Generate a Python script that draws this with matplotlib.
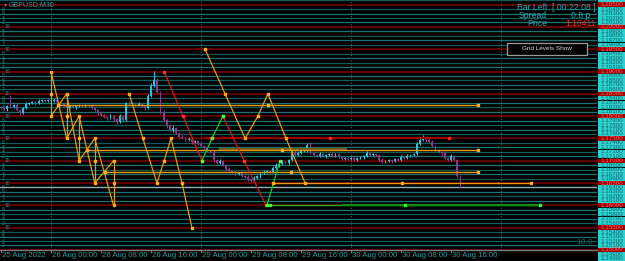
import matplotlib.pyplot as plt
from matplotlib.patches import Rectangle

plt.rcParams['font.family'] = ['Liberation Sans', 'DejaVu Sans']

# GBPUSD M30 closes, bar 0 = 25 Aug 16:00
first_open = 1.1820
closes = [
    1.1818, 1.1816, 1.1823, 1.1821, 1.1825, 1.1814, 1.1807, 1.1818, 1.1827, 1.1829,
    1.1832, 1.1829, 1.1834, 1.1836, 1.1834, 1.1836, 1.1834, 1.1836, 1.1832, 1.1827,
    1.1823, 1.1821, 1.1823, 1.1821, 1.1823, 1.1825, 1.1823, 1.1825, 1.1823, 1.1818,
    1.1814, 1.1807, 1.1803, 1.1798, 1.1796, 1.1800, 1.1794, 1.1787, 1.1800, 1.1791,
    1.1829, 1.1827, 1.1829, 1.1825, 1.1827, 1.1823, 1.1818, 1.1845, 1.1868, 1.1881,
    1.1854, 1.1809, 1.1791, 1.1778, 1.1769, 1.1773, 1.1762, 1.1753, 1.1751, 1.1747,
    1.1749, 1.1742, 1.1744, 1.1738, 1.1733, 1.1729, 1.1722, 1.1720, 1.1702, 1.1695,
    1.1699, 1.1690, 1.1682, 1.1677, 1.1675, 1.1670, 1.1672, 1.1666, 1.1664, 1.1659,
    1.1655, 1.1661, 1.1666, 1.1672, 1.1675, 1.1677, 1.1675, 1.1684, 1.1690, 1.1693,
    1.1697, 1.1695, 1.1702, 1.1720, 1.1713, 1.1717, 1.1722, 1.1724, 1.1735, 1.1717,
    1.1713, 1.1711, 1.1715, 1.1711, 1.1713, 1.1715, 1.1711, 1.1715, 1.1708, 1.1704,
    1.1706, 1.1704, 1.1706, 1.1702, 1.1706, 1.1708, 1.1711, 1.1717, 1.1713, 1.1715,
    1.1713, 1.1702, 1.1697, 1.1699, 1.1702, 1.1699, 1.1704, 1.1702, 1.1708, 1.1706,
    1.1711, 1.1713, 1.1715, 1.1738, 1.1747, 1.1751, 1.1747, 1.1742, 1.1733, 1.1724,
    1.1720, 1.1717, 1.1706, 1.1702, 1.1711, 1.1702, 1.1666, 1.16411,
]
# wick lengths in pips
upper_wick = [
    3, 4, 2, 25, 3, 4, 2, 3, 4, 2, 3, 2, 4, 3, 2, 3, 2, 4, 3, 2,
    3, 2, 3, 4, 2, 3, 2, 3, 2, 4, 2, 3, 4, 2, 3, 4, 3, 2, 5, 3,
    3, 4, 2, 3, 4, 2, 3, 4, 6, 20, 4, 3, 5, 3, 4, 6, 3, 2, 4, 3,
    4, 3, 2, 3, 4, 3, 2, 3, 5, 3, 4, 3, 2, 4, 3, 2, 3, 4, 2, 3,
    3, 4, 2, 3, 4, 3, 2, 4, 5, 3, 4, 3, 2, 4, 3, 4, 3, 2, 5, 7,
    3, 2, 4, 3, 2, 3, 4, 2, 3, 2, 3, 2, 3, 4, 2, 3, 2, 4, 3, 2,
    3, 2, 4, 3, 2, 3, 2, 3, 4, 2, 3, 2, 3, 4, 3, 7, 2, 3, 4, 2,
    3, 2, 4, 3, 3, 2, 3, 2,
]
lower_wick = [
    3, 2, 4, 3, 2, 3, 5, 2, 3, 2, 2, 3, 2, 2, 3, 2, 3, 2, 3, 4,
    2, 3, 2, 3, 4, 2, 3, 2, 3, 2, 3, 4, 2, 3, 5, 3, 4, 5, 3, 4,
    3, 2, 4, 3, 2, 3, 4, 3, 3, 2, 3, 4, 3, 5, 3, 4, 3, 4, 3, 2,
    3, 4, 3, 2, 3, 4, 3, 2, 4, 3, 3, 2, 4, 3, 2, 4, 3, 2, 3, 4,
    3, 2, 3, 4, 2, 3, 2, 3, 2, 3, 2, 3, 4, 2, 3, 2, 3, 2, 4, 3,
    2, 3, 2, 3, 4, 2, 3, 3, 2, 3, 2, 3, 2, 3, 2, 3, 4, 2, 3, 2,
    3, 4, 2, 3, 2, 3, 2, 3, 2, 3, 2, 3, 2, 3, 2, 3, 4, 2, 3, 2,
    3, 4, 2, 3, 2, 3, 4, 2,
]
bid = 1.16411

time_labels = ['25 Aug 2022', '26 Aug 00:00', '26 Aug 08:00', '26 Aug 16:00', '29 Aug 00:00',
               '29 Aug 08:00', '29 Aug 16:00', '30 Aug 00:00', '30 Aug 08:00', '30 Aug 16:00']
time_bars = [0, 16, 32, 48, 64, 80, 96, 112, 128, 144]
day_bars = [16, 64, 112, 160]

# pattern 1: crossing legs between verticals
p1_bars = [16, 21, 25, 30, 36]
p1_top = [1.190, 1.185, 1.180, 1.175, 1.170]
p1_bot = [1.180, 1.175, 1.170, 1.165, 1.160]
# pattern 2 and 3 zigzags
p2_bars = [41, 45.4, 49.9, 52.2, 54.4, 57.9, 61.1]
p2_prices = [1.185, 1.175, 1.165, 1.170, 1.175, 1.165, 1.155]
p3_bars = [65.3, 71.7, 78.1, 82.2, 85.4, 91.2, 97.3]
p3_prices = [1.195, 1.185, 1.175, 1.180, 1.185, 1.175, 1.165]
# red / green swings
red1_bars, red1_prices = [52.2, 58.2, 64.3], [1.190, 1.180, 1.170]
green1_bars, green1_prices = [64.3, 67.5, 71.0], [1.170, 1.175, 1.180]
red2_bars, red2_prices = [71.0, 77.8, 84.8], [1.180, 1.170, 1.160]
green2_bars, green2_prices = [85.1, 89.3], [1.160, 1.170]
# horizontal levels: price, start bar, end bar
orange_levels = [(1.1825, 18.2, 152.6), (1.1725, 27.5, 152.6), (1.1675, 33.3, 152.6), (1.1650, 87.0, 169.6)]
red_levels = [(1.1750, 67.2, 143.4)]
green_levels = [(1.1600, 86.1, 172.5)]

W, H = 625, 261
px_per_price = 4460.0
bid_y = 187
p_top = bid + bid_y / px_per_price
p_bot = bid - (250 - bid_y) / px_per_price
p_fig_bot = bid - (H - bid_y) / px_per_price

fig = plt.figure(figsize=(W / 100, H / 100), dpi=100, facecolor='black')
ax = fig.add_axes([0, 11 / H, 597 / W, 250 / H])
ax.set_facecolor('black')
ax.set_xlim(-0.32, 190.72)
ax.set_ylim(p_bot, p_top)
ax.axis('off')

TEAL = '#1f7272'
for k in range(1147, 1207):
    lvl = k / 1000
    if k % 5 == 0:
        ax.axhline(lvl, color='#6a0000', lw=1.3, zorder=1)
    else:
        ax.axhline(lvl, color=TEAL if k % 2 else '#175a5a', lw=0.9, zorder=1)
for k in range(1151, 1205):
    lvl = k / 1000
    lab = '10' if k % 5 == 0 else str((k % 5) * 2)
    ax.text(0.3 if k % 5 else 1.0, lvl, lab, fontsize=3.6, color='#2a8c8c', va='center', ha='left', zorder=2)

for b in day_bars:
    ax.axvline(b, color='#1d6a6a', lw=0.8, ls=(0, (1, 1.5)), zorder=1)

ax.axhline(bid, color='#8fa8a8', lw=1.0, zorder=2)

# candles
opens = [first_open] + closes[:-1]
for i, (o, c) in enumerate(zip(opens, closes)):
    col = '#26c4dc' if c >= o else '#8a3a8a'
    hi = max(o, c) + upper_wick[i] / 10000
    lo = min(o, c) - lower_wick[i] / 10000
    ax.vlines(i, lo, hi, color=col, lw=0.8, zorder=3)
    ax.bar(i, max(abs(c - o), 0.00008), bottom=min(o, c), width=0.55, color=col, lw=0, zorder=3)

ORANGE = '#e8980c'
mk = dict(marker='s', ms=1.8, mec='#ffb020', mfc='#ffa000', zorder=6)

# horizontal levels
for lvl, b0, b1 in orange_levels:
    ax.plot([b0, b1], [lvl, lvl], color=ORANGE, lw=1.0, zorder=4)
    ax.plot([b0, (b0 + b1) / 2, b1], [lvl] * 3, ls='none', **mk)
ax.plot([70, 110.5], [1.1727, 1.1727], color='#6b5a10', lw=1.6, zorder=3.5)
for lvl, b0, b1 in red_levels:
    ax.plot([b0 - 2, b1], [lvl, lvl], color='#9a0000', lw=1.6, zorder=4)
    ax.plot([b0, (b0 + b1) / 2, b1], [lvl] * 3, ls='none', marker='s', ms=1.8,
            mec='#ff2020', mfc='#ff2020', zorder=6)
for lvl, b0, b1 in green_levels:
    ax.plot([b0, b1], [lvl, lvl], color='#22b022', lw=1.0, zorder=4)
    ax.plot([(b0 + b1) / 2 - 20, b1], [lvl, lvl], color='#128a12', lw=1.6, zorder=4)
    ax.plot([b0, (b0 + b1) / 2, b1], [lvl] * 3, ls='none', marker='s', ms=1.8,
            mec='#30ff30', mfc='#20e020', zorder=6)

# pattern 1
for j in range(len(p1_bars)):
    b = p1_bars[j]
    ax.plot([b, b], [p1_bot[j], p1_top[j]], color=ORANGE, lw=0.9, zorder=5)
    ax.plot([b] * 3, [p1_top[j], (p1_top[j] + p1_bot[j]) / 2, p1_bot[j]], ls='none', **mk)
    if j + 1 < len(p1_bars):
        nb = p1_bars[j + 1]
        ax.plot([b, nb], [p1_top[j], p1_bot[j + 1]], color=ORANGE, lw=0.9, zorder=5)
        ax.plot([b, nb], [p1_bot[j], p1_top[j + 1]], color=ORANGE, lw=0.9, zorder=5)

for xs, ys in [(p2_bars, p2_prices), (p3_bars, p3_prices)]:
    ax.plot(xs, ys, color=ORANGE, lw=0.9, zorder=5)
    ax.plot(xs, ys, ls='none', **mk)

for xs, ys, col, mcol in [(red1_bars, red1_prices, '#d81818', '#ff3030'),
                          (red2_bars, red2_prices, '#d81818', '#ff3030'),
                          (green1_bars, green1_prices, '#22c822', '#40ff40'),
                          (green2_bars, green2_prices, '#22c822', '#40ff40')]:
    ax.plot(xs, ys, color=col, lw=0.9, zorder=5)
    ax.plot(xs, ys, ls='none', marker='s', ms=1.8, mec=mcol, mfc=mcol, zorder=6)

# time axis
axis_y = 11 / H
fig.add_artist(plt.Line2D([0, 597 / W], [axis_y, axis_y], color='#7a7a7a', lw=1.0))
for b, lab in zip(time_bars, time_labels):
    xf = (1 + 3.125 * b) / W
    fig.add_artist(plt.Line2D([xf, xf], [axis_y, axis_y - 2 / H], color='#7a7a7a', lw=0.8))
    fig.text(xf + 1 / W, 5.5 / H, lab, fontsize=5.6, color='#2a9c9c', va='center', ha='left')

# price scale
axr = fig.add_axes([597 / W, 0, 28 / W, 1])
axr.set_xlim(0, 1)
axr.set_ylim(p_fig_bot, p_top)
axr.axis('off')
axr.add_patch(Rectangle((0, p_fig_bot), 1, p_top - p_fig_bot, color='black'))
for k in range(1147, 1207):
    lvl = k / 1000
    red = k % 5 == 0
    axr.add_patch(Rectangle((0.03, lvl - 0.00048), 0.97, 0.00096,
                            color='#a00000' if red else '#2fcfcf', lw=0))
for k in range(1148, 1206):
    lvl = k / 1000
    red = k % 5 == 0
    axr.text(0.12, lvl, f'{lvl:.5f}', fontsize=4.5, color='#ff6060' if red else '#0e6c6c',
             va='center', ha='left', clip_on=True)

# info texts
def ftxt(x, y, s, **kw):
    fig.text(x / W, 1 - y / H, s, **kw)

INFO = '#2aa6b0'
ftxt(2, 5, '\u25bc', fontsize=3.5, color='#2a9c9c', va='center')
ftxt(9, 5, 'GBPUSD,M30', fontsize=5, color='#2a9c9c', va='center')
ftxt(547, 7, 'Bar Left', fontsize=6.2, color=INFO, va='center', ha='right')
ftxt(596, 7, '[ 00:22:08 ]', fontsize=6.2, color=INFO, va='center', ha='right')
ftxt(547, 15.5, 'Spread', fontsize=6.2, color=INFO, va='center', ha='right')
ftxt(590, 15.5, '0.8 p', fontsize=6.2, color=INFO, va='center', ha='right')
ftxt(547, 23.5, 'Price', fontsize=6.2, color=INFO, va='center', ha='right')
ftxt(596, 23.5, '1.16411', fontsize=6.2, color='#ff2020', va='center', ha='right')
ftxt(593, 242, '10.0', fontsize=6, color='#2a5a5a', va='center', ha='right')

btn = Rectangle((507 / W, 1 - 55 / H), 80 / W, 12 / H, transform=fig.transFigure,
                facecolor='#050505', edgecolor='#9a9a9a', lw=0.9)
fig.add_artist(btn)
ftxt(547, 49, 'Grid Levels Show', fontsize=4.6, color='#d0d0d0', va='center', ha='center')

fig.savefig('out.png', dpi=100, facecolor='black')
